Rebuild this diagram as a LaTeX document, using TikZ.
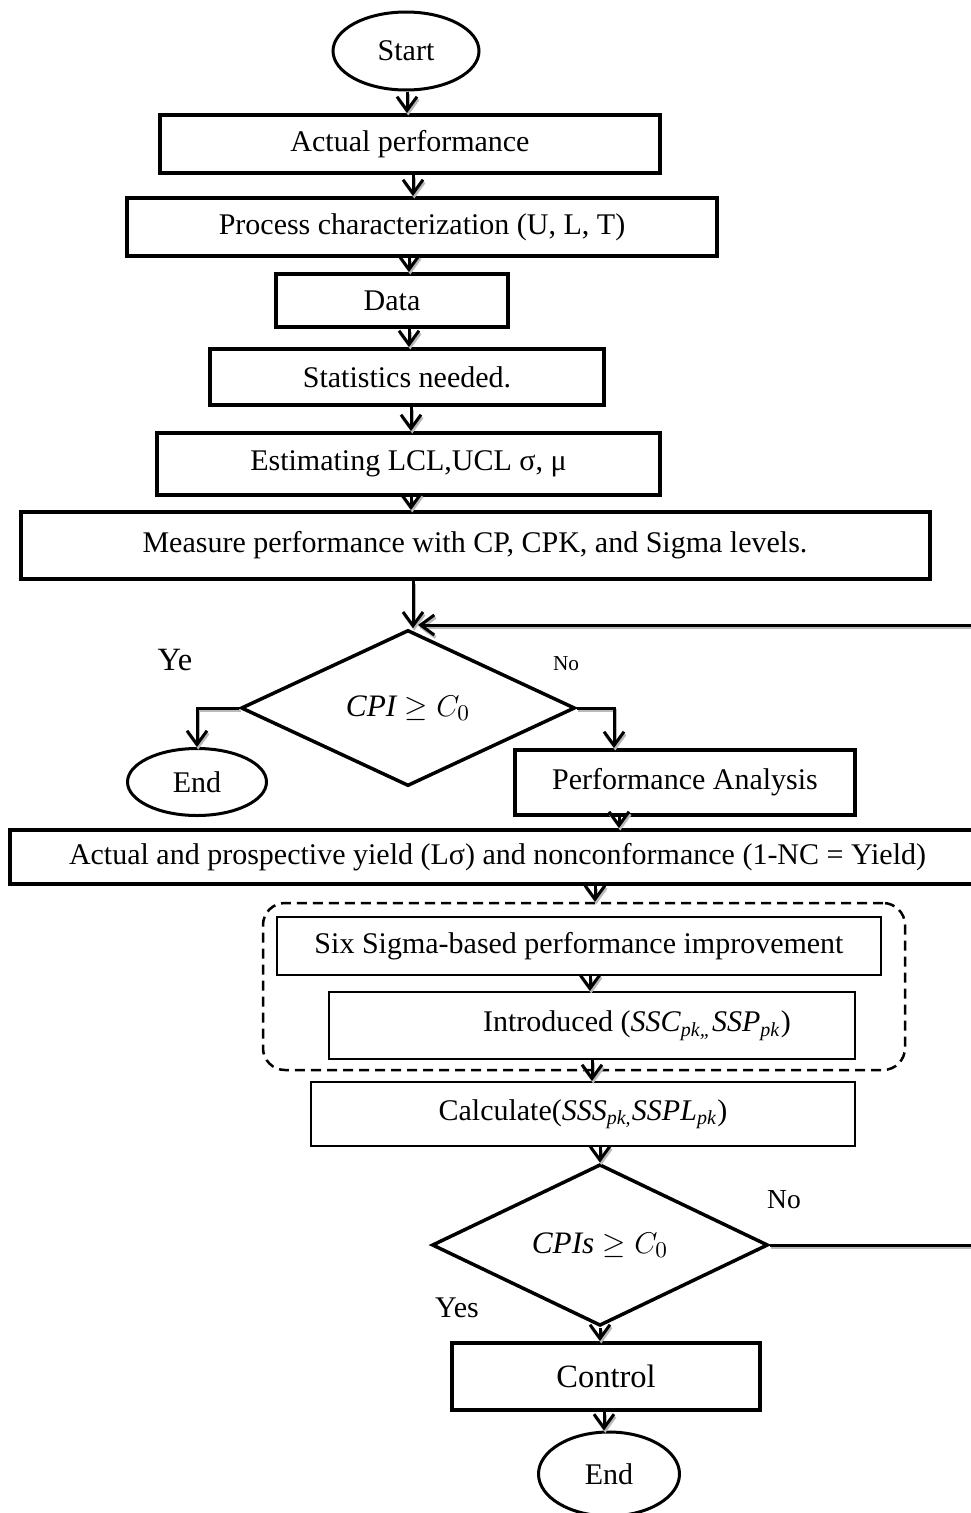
\documentclass[tikz,border=0pt]{standalone}
\usepackage{fontspec}
\setmainfont{Liberation Serif}
\usetikzlibrary{shapes.geometric,arrows.meta,calc}
\newcommand\pxu{0.4pt}
\begin{document}
\begin{tikzpicture}[x=0.4pt,y=-0.4pt,
  bx/.style 2 args={minimum width=#1*\pxu, minimum height=#2*\pxu, inner sep=0pt},
  thickbox/.style={draw, rectangle, line width=1.6pt, font=\fontsize{12}{14}\selectfont},
  thinbox/.style={draw, rectangle, line width=0.8pt, font=\fontsize{12}{14}\selectfont},
  term/.style={draw, ellipse, line width=1.2pt, inner sep=0pt, font=\fontsize{12}{14}\selectfont},
  decide/.style={draw, diamond, line width=1.4pt, inner sep=0pt, font=\fontsize{12.5}{14}\selectfont},
  lbl/.style={inner sep=0pt, font=\fontsize{12}{14}\selectfont},
  arr/.style={line width=1.2pt, -{Straight Barb[length=5.5pt,width=8pt,line width=1.2pt]},
    preaction={draw=gray!55, line width=1.2pt, -{Straight Barb[length=5.5pt,width=8pt,line width=1.2pt]},
      transform canvas={xshift=0.5pt,yshift=-1pt}}}
]
\useasboundingbox (0,0) rectangle (971,1513);

% columns for arrows
\coordinate (cA) at (407,0);
\coordinate (cB) at (413,0);
\coordinate (cC) at (409,0);
\coordinate (cD) at (411,0);
\coordinate (cE) at (619,0);
\coordinate (cF) at (595,0);
\coordinate (cG) at (590,0);
\coordinate (cH) at (592,0);
\coordinate (cI) at (600,0);
\coordinate (cJ) at (604,0);

\node[term, minimum width=146*\pxu, minimum height=78*\pxu] (start) at (406,51) {Start};
\node[thickbox, bx={500}{58}] (ap) at (410,144) {Actual performance};
\node[thickbox, bx={590}{58}] (pc) at (422,227) {Process characterization (U, L, T)};
\node[thickbox, bx={232}{53}] (data) at (392,300.5) {Data};
\node[thickbox, bx={394}{56}] (stat) at (407,377) {Statistics needed.};
\node[thickbox, bx={503}{62}] (est) at (408.5,464) {Estimating LCL,UCL σ, μ};
\node[thickbox, bx={909}{67}] (meas) at (475,545.5) {Measure performance with CP, CPK, and Sigma levels.};

\node[decide, minimum width=334*\pxu, minimum height=156*\pxu] (d1) at (408,708) {$\mathit{CPI} \geq C_0$};
\node[lbl, font=\fontsize{13}{14}\selectfont] (ye) at (175,660) {Ye};
\node[lbl, font=\fontsize{8.5}{10}\selectfont] (no1) at (566,664) {No};

\node[term, minimum width=139*\pxu, minimum height=67*\pxu] (end1) at (197,782) {End};
\node[thickbox, bx={340}{65}] (pa) at (685,782.5) {Performance Analysis};

\node[thickbox, bx={975}{54}] (ay) at (497.5,857) {Actual and prospective yield (Lσ) and nonconformance (1-NC = Yield)};

\node[draw, dashed, dash pattern=on 4pt off 2.4pt, line width=1pt, rounded corners=22*\pxu, bx={642}{167}] (grp) at (584,986.5) {};
\node[thinbox, bx={604}{58}] (six) at (579,946) {Six Sigma-based performance improvement};
\node[thinbox, bx={526}{67}] (intro) at (592,1025.5) {\hspace*{36pt}Introduced (\textit{SSC}\textsubscript{\textit{pk,,}}\textit{SSP}\textsubscript{\textit{pk}})};
\node[thinbox, bx={544}{64}] (calc) at (583,1114) {Calculate(\textit{SSS}\textsubscript{\textit{pk,}}\textit{SSPL}\textsubscript{\textit{pk}})};

\node[decide, minimum width=336*\pxu, minimum height=150*\pxu] (d2) at (600,1245) {$\mathit{CPIs} \geq C_0$};
\node[lbl, font=\fontsize{11}{13}\selectfont] (no2) at (784,1200) {No};
\node[lbl] (yes2) at (457,1308) {Yes};

\node[thickbox, bx={308}{67}, font=\fontsize{13}{15}\selectfont] (ctrl) at (606,1376.5) {Control};
\node[term, minimum width=141*\pxu, minimum height=84*\pxu] (end2) at (609,1474) {End};

\coordinate (looptip) at (418,625);
\coordinate (loopR) at (992,625);

% connectors
\draw[arr] (start.south -| cA) -- (ap.north -| cA);
\draw[arr] (ap.south -| cB) -- (pc.north -| cB);
\draw[arr] (pc.south -| cC) -- (data.north -| cC);
\draw[arr] (data.south -| cC) -- (stat.north -| cC);
\draw[arr] (stat.south -| cD) -- (est.north -| cD);
\draw[arr] (est.south -| cD) -- (meas.north -| cD);
\draw[arr] (meas.south -| cB) -- (d1.north -| cB);
\draw[arr] (d1.west) -| (end1.north);
\draw[arr] (d1.east) -| ([xshift=-71*\pxu]pa.north);
\draw[arr] (pa.south -| cE) -- (ay.north -| cE);
\draw[arr] (ay.south -| cF) -- (grp.north -| cF);
\draw[arr] (six.south -| cG) -- (intro.north -| cG);
\draw[arr] (intro.south -| cH) -- (calc.north -| cH);
\draw[arr] (calc.south -| cI) -- (d2.north -| cI);
\draw[arr] (d2.south) -- (ctrl.north -| d2.south);
\draw[arr] (ctrl.south -| cJ) -- (end2.north -| cJ);
\draw[arr] (d2.east) -| (loopR) -- (looptip);
\end{tikzpicture}
\end{document}
